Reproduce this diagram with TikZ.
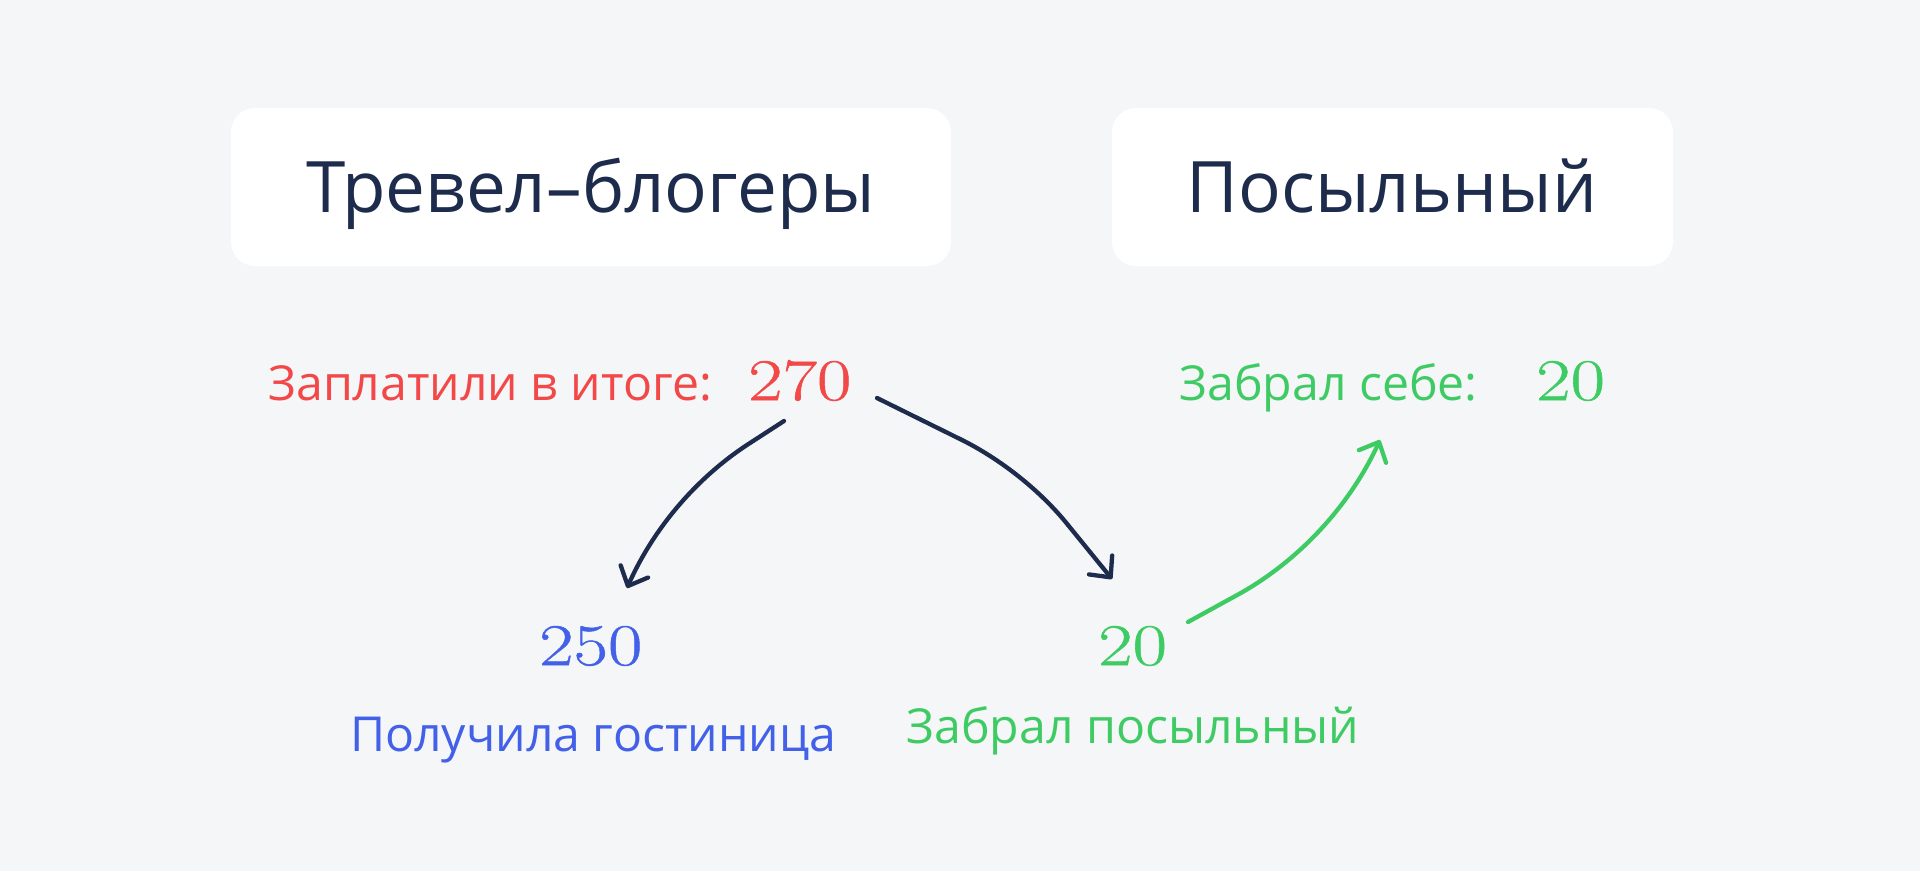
\documentclass[tikz,border=0pt]{standalone}
\usepackage{fontspec}
\newfontfamily\sansf{Open Sans}
\newfontfamily\numf[FakeStretch=1.27,FakeBold=0.9]{Latin Modern Roman}
\usetikzlibrary{arrows.meta}
\definecolor{bgc}{HTML}{F5F6F8}
\definecolor{navy}{HTML}{1D2B4C}
\definecolor{redc}{HTML}{F24848}
\definecolor{greenc}{HTML}{3FCB63}
\definecolor{bluec}{HTML}{4361E8}
\tikzset{
  titlebox/.style={fill=white, rounded corners=24pt},
  titletext/.style={font=\sansf\fontsize{71}{80}\selectfont, text=navy, inner sep=0pt, anchor=base},
  labeltext/.style={font=\sansf\fontsize{48.2}{56}\selectfont, inner sep=0pt, anchor=base west},
  numtext/.style={font=\numf\fontsize{59}{70}\selectfont, inner sep=0pt, anchor=base west},
  flow/.style={line width=4.3pt, line cap=round, line join=round,
    -{Straight Barb[length=16pt,width=30pt,line width=4.3pt,round]}},
}
\begin{document}
\begin{tikzpicture}[x=1pt,y=-1pt]
\fill[bgc] (0,0) rectangle (1920,871);
\useasboundingbox (0,0) rectangle (1920,871);
\fill[titlebox] (231,108) rectangle (951,266);
\fill[titlebox] (1112,108) rectangle (1673,266);
\node[titletext] (t1) at (591,212) {Тревел–блогеры};
\node[titletext] (t2) at (1392,212) {Посыльный};

\node[labeltext, text=redc] (paid) at (268,400) {Заплатили в итоге:};
\node[numtext, text=redc] (n270) at (748,400) {270};
\node[labeltext, text=greenc] (took) at (1179,400) {Забрал себе:};
\node[numtext, text=greenc] (n20a) at (1536,400) {20};

\node[numtext, text=bluec] (n250) at (539,665) {250};
\node[numtext, text=greenc] (n20b) at (1098,665) {20};
\node[labeltext, text=bluec] (hotel) at (350,751) {Получила гостиница};
\node[labeltext, text=greenc] (boy) at (906,743) {Забрал посыльный};

\coordinate (a1s) at (784,421);
\coordinate (a1e) at (627,588);
\coordinate (a2s) at (877,398);
\coordinate (a2e) at (1112,579);
\coordinate (a3s) at (1188,622);
\coordinate (a3e) at (1380,440);

\draw[flow, navy] (a1s) -- (750,443) .. controls (700,475) and (655,525) .. (a1e);
\draw[flow, navy] (a2s) -- (962,440) .. controls (1000,459) and (1040,490) .. (1068,525) -- (a2e);
\draw[flow, greenc] (a3s) -- (1239,594) .. controls (1300,560) and (1350,505) .. (a3e);
\end{tikzpicture}
\end{document}
